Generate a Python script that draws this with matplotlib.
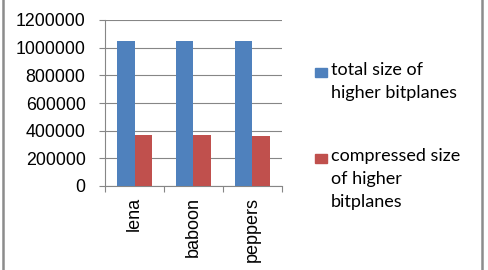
import matplotlib
matplotlib.use("Agg")
import matplotlib.pyplot as plt
from matplotlib.patches import Rectangle
from matplotlib.lines import Line2D
import numpy as np

images = ["lena", "baboon", "peppers"]
total_size = [1048576, 1048576, 1048576]
compressed_size = [368500, 368800, 361500]
series_labels = ["total size of\nhigher bitplanes", "compressed size\nof higher\nbitplanes"]
series_colors = ["#4F81BD", "#C0504D"]
yticks = [0, 200000, 400000, 600000, 800000, 1000000, 1200000]

plt.rcParams["font.family"] = ["Liberation Sans", "DejaVu Sans"]

W, H = 488, 270
fig = plt.figure(figsize=(W / 100, H / 100), dpi=100)
ax = fig.add_axes([105 / W, 1 - 186 / H, (282 - 105) / W, (186 - 20) / H])

x = np.arange(len(images))
bw = 0.29
ax.bar(x - bw / 2, total_size, bw, color=series_colors[0], zorder=3)
ax.bar(x + bw / 2, compressed_size, bw, color=series_colors[1], zorder=3)

ax.set_xlim(-0.5, len(images) - 0.5)
ax.set_ylim(0, 1200000)
ax.set_yticks(yticks)
ax.set_yticklabels([str(v) for v in yticks], fontsize=12.8)
ax.set_xticks(np.arange(len(images) + 1) - 0.5, minor=False)
ax.set_xticklabels([])
ax.set_xticks(x, minor=True)
ax.set_xticklabels(images, minor=True, rotation=90, fontsize=13, va="top")
ax.tick_params(axis="x", which="minor", length=0, pad=8)
ax.tick_params(axis="x", which="major", length=4, color="#868686", direction="out")
ax.tick_params(axis="y", length=4, color="#868686", pad=10)
ax.yaxis.grid(True, color="#868686", linewidth=0.8, zorder=0)
for side in ["top", "right"]:
    ax.spines[side].set_visible(False)
for side in ["left", "bottom"]:
    ax.spines[side].set_color("#868686")

# legend drawn by hand so the square sits on the first line
legend_tops = [62, 148]
for label, color, top in zip(series_labels, series_colors, legend_tops):
    fig.add_artist(Rectangle((315 / W, 1 - (top + 15) / H), 12 / W, 9 / H,
                             transform=fig.transFigure, color=color))
    fig.text(331 / W, 1 - top / H, label, fontsize=13, va="top", ha="left",
             linespacing=1.55, family=["Lato", "DejaVu Sans"])

# gray side borders
for xb in [3, 482]:
    fig.add_artist(Line2D([xb / W, xb / W], [0, 1], transform=fig.transFigure,
                          color="#8c8c8c", linewidth=1.8))

fig.savefig("out.png", dpi=100)
